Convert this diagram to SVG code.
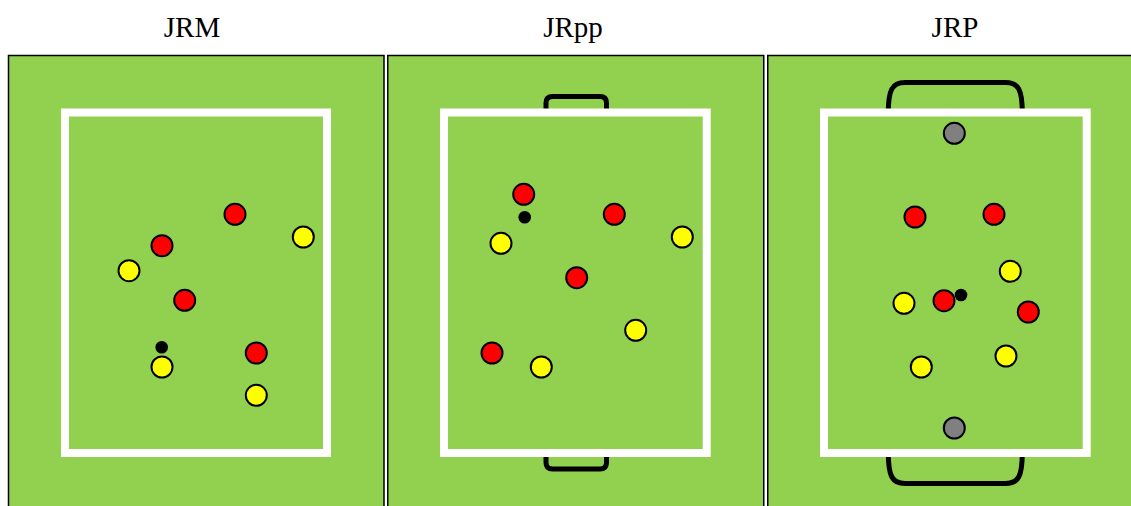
<svg xmlns="http://www.w3.org/2000/svg" width="1131" height="506" viewBox="0 0 1131 506">
<style>
.title{font-family:"Liberation Serif","Times New Roman",serif;font-size:29px;fill:#000;text-anchor:middle}
.field{fill:#92D050;stroke:#000;stroke-width:1.5}
.line{fill:none;stroke:#fff;stroke-width:8}
.goal{fill:none;stroke:#000;stroke-width:5;stroke-linecap:butt}
.r{fill:#FF0000;stroke:#000;stroke-width:2}
.y{fill:#FFFF00;stroke:#000;stroke-width:2}
.g{fill:#808080;stroke:#000;stroke-width:2}
.b{fill:#000}
</style>
<rect width="1131" height="506" fill="#fff"/>
<g id="panel-jrm">
<text class="title" x="192" y="36.5">JRM</text>
<rect class="field" x="8.5" y="55.5" width="375.5" height="460"/>
<rect class="line" x="65" y="112.5" width="262" height="340.5"/>
<circle class="r" cx="235" cy="214.3" r="10.5"/>
<circle class="y" cx="303.3" cy="237" r="10.5"/>
<circle class="r" cx="162" cy="245.7" r="10.5"/>
<circle class="y" cx="129" cy="270.7" r="10.5"/>
<circle class="r" cx="184.7" cy="300.3" r="10.5"/>
<circle class="b" cx="161.7" cy="347.3" r="6.3"/>
<circle class="y" cx="162" cy="367" r="10.5"/>
<circle class="r" cx="256.3" cy="353" r="10.5"/>
<circle class="y" cx="256.3" cy="395.3" r="10.5"/>
</g>
<g id="panel-jrpp">
<text class="title" x="573" y="36.5">JRpp</text>
<rect class="field" x="387.75" y="55.5" width="376" height="460"/>
<path class="goal" d="M546,113 V103 Q546,96.5 552.5,96.5 H600 Q606.5,96.5 606.5,103 V113"/>
<path class="goal" d="M546,452 V462.5 Q546,469 552.5,469 H600 Q606.5,469 606.5,462.5 V452"/>
<rect class="line" x="444" y="112.5" width="262.7" height="340.5"/>
<circle class="r" cx="523.7" cy="194.3" r="10.5"/>
<circle class="b" cx="524.7" cy="217.3" r="6.3"/>
<circle class="r" cx="614.3" cy="214.3" r="10.5"/>
<circle class="y" cx="501" cy="243.3" r="10.5"/>
<circle class="y" cx="682.3" cy="237" r="10.5"/>
<circle class="r" cx="576.7" cy="277.7" r="10.5"/>
<circle class="y" cx="635.7" cy="330.3" r="10.5"/>
<circle class="r" cx="492" cy="353" r="10.5"/>
<circle class="y" cx="541.3" cy="367" r="10.5"/>
</g>
<g id="panel-jrp">
<text class="title" x="955" y="36.5">JRP</text>
<rect class="field" x="767.75" y="55.5" width="380" height="460"/>
<path class="goal" d="M888.3,113 C888.3,90 892,82.5 905,82.5 H1005.6 C1018.6,82.5 1022.3,90 1022.3,113"/>
<path class="goal" d="M888.3,452 C888.3,476 892,483.5 905,483.5 H1005.6 C1018.6,483.5 1022.3,476 1022.3,452"/>
<rect class="line" x="824" y="112.5" width="262.7" height="340.5"/>
<circle class="g" cx="954.3" cy="133.3" r="10.5"/>
<circle class="g" cx="954.3" cy="428" r="10.5"/>
<circle class="r" cx="915" cy="217" r="10.5"/>
<circle class="r" cx="994" cy="214.3" r="10.5"/>
<circle class="y" cx="1010.3" cy="271.3" r="10.5"/>
<circle class="y" cx="904" cy="303.3" r="10.5"/>
<circle class="b" cx="961" cy="295" r="6.3"/>
<circle class="r" cx="944" cy="300.7" r="10.5"/>
<circle class="r" cx="1028.3" cy="312" r="10.5"/>
<circle class="y" cx="1006" cy="356" r="10.5"/>
<circle class="y" cx="921.3" cy="367" r="10.5"/>
</g>
<g id="connectors"></g>
</svg>
